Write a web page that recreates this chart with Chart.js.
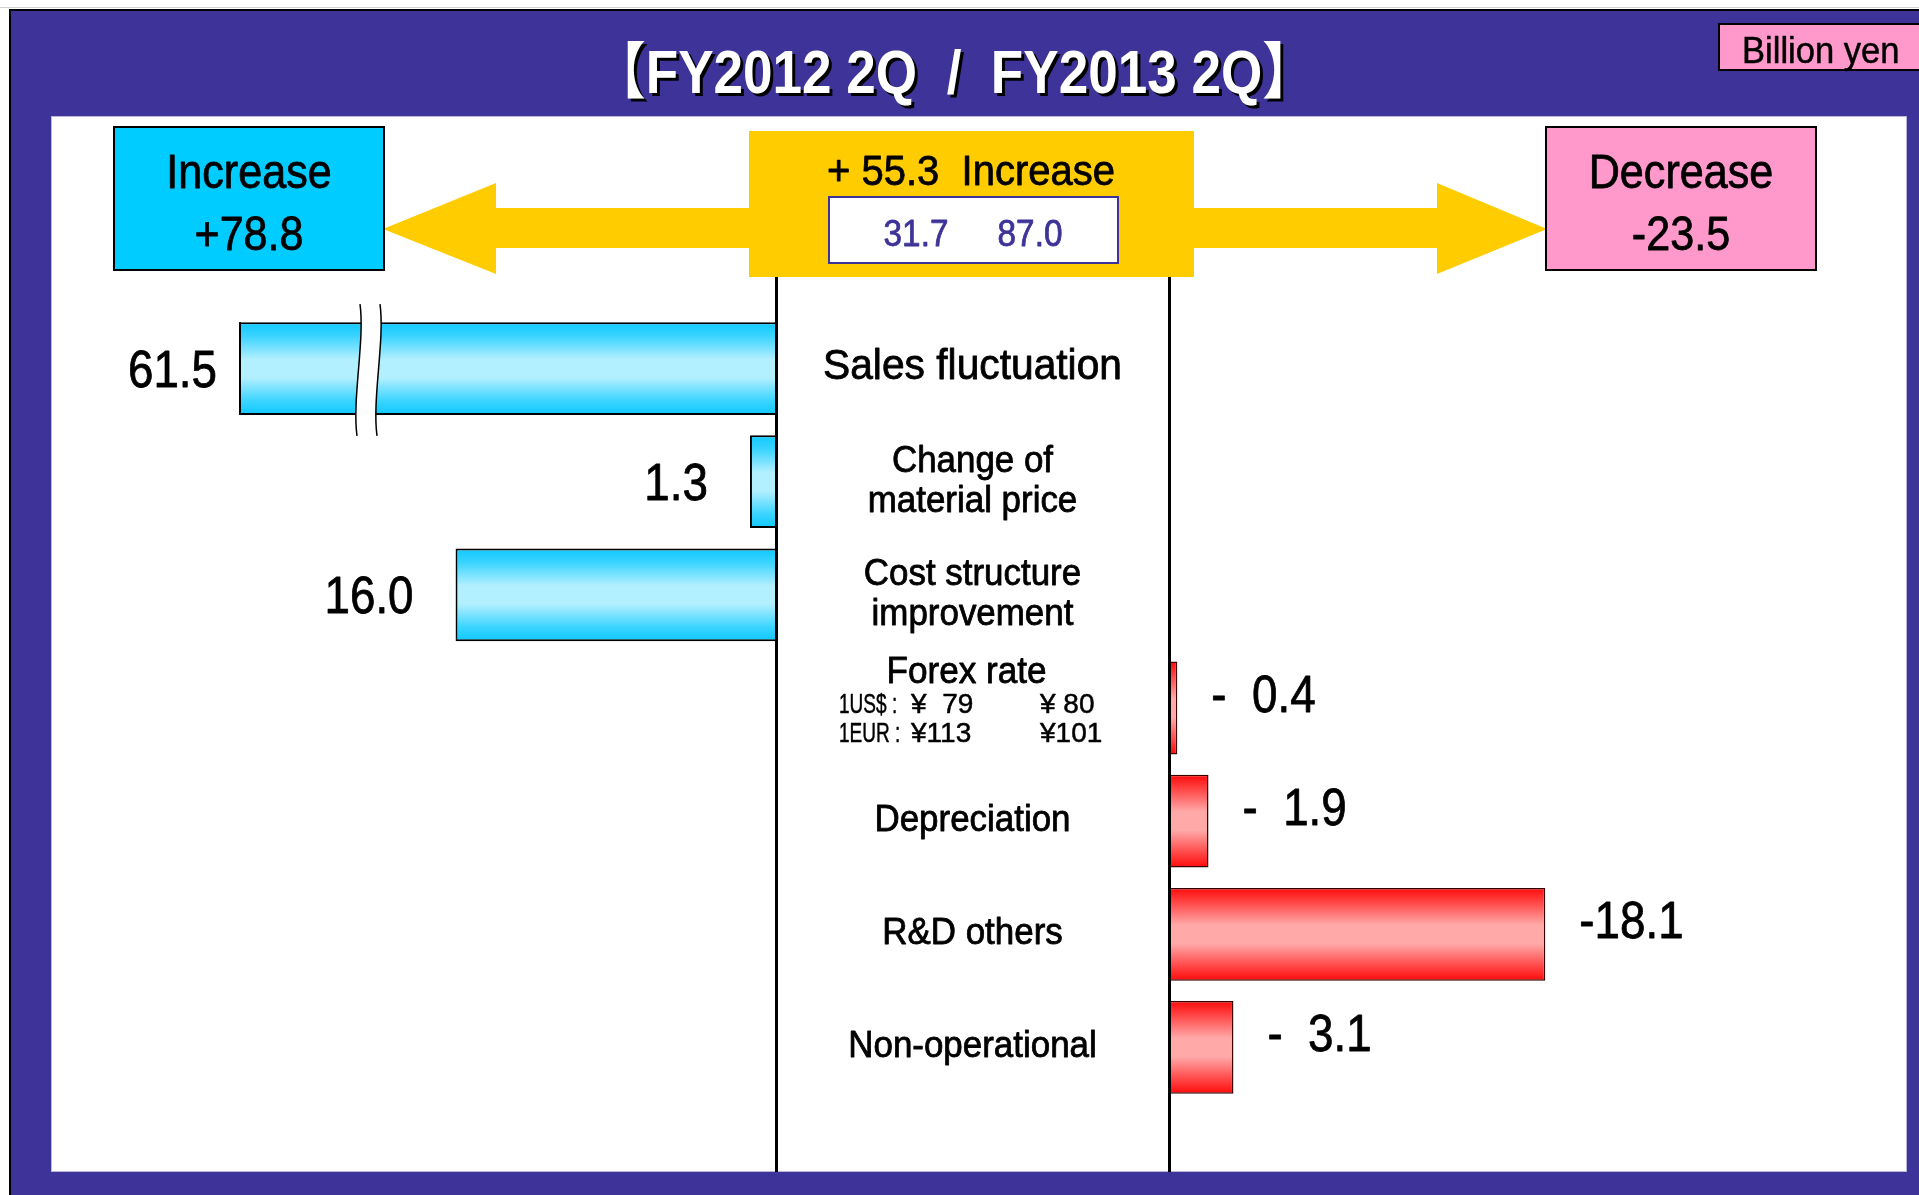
<!DOCTYPE html>
<html>
<head>
<meta charset="utf-8">
<script src="https://cdn.jsdelivr.net/npm/chart.js@4/dist/chart.umd.min.js"></script>
<style>
  html, body { margin: 0; padding: 0; background: #fff; overflow: hidden; }
  canvas { display: block; }
</style>
</head>
<body>
<canvas id="chart" width="1919" height="1195"></canvas>
<script>
// ---------------- data ----------------
const titleText = "【FY2012 2Q  /  FY2013 2Q】";
const unitText = "Billion yen";
const categories = [
  ["Sales fluctuation"],
  ["Change of", "material price"],
  ["Cost structure", "improvement"],
  ["Forex rate"],
  ["Depreciation"],
  ["R&D others"],
  ["Non-operational"]
];
const forexCurrencies = ["1US$ :", "1EUR :"];
const forexBefore = [79, 113];
const forexAfter = [80, 101];
const increaseValues = [61.5, 1.3, 16.0, null, null, null, null];
const decreaseValues = [null, null, null, -0.4, -1.9, -18.1, -3.1];
const totalIncrease = [78.8];
const totalDecrease = [-23.5];
const netChange = [55.3];
const profitFromTo = [31.7, 87.0];
const boxTitles = ["Increase", "Decrease", "Increase"];

// ---------------- layout / style ----------------
const W = 1919, H = 1195;
const PANEL = { l: 51, t: 116, r: 1907, b: 1172 };
const ZERO_L = 776, ZERO_R = 1169;      // zero lines of the two value axes
const BREAK_LEFT = 239;                   // left edge of the plotting area (axis break)
const BAR_RATIO = 0.82;
const PURPLE = '#3D3399';
const CYAN = '#00CCFF', PINK = '#FF99CC', YELLOW = '#FFCC00';
const FONT = '"Liberation Sans", Arial, "Noto Sans CJK JP", sans-serif';

function txt(ctx, s, x, y, size, o = {}) {
  ctx.save();
  ctx.font = (o.bold ? 'bold ' : '') + size + 'px ' + FONT;
  ctx.fillStyle = o.color || '#000';
  ctx.textAlign = o.align || 'center';
  ctx.textBaseline = o.baseline || 'alphabetic';
  ctx.translate(x, y);
  ctx.scale(o.sx || 1, 1);
  ctx.fillText(s, 0, 0);
  const sw = o.stroke === undefined ? 0.8 : o.stroke;
  if (sw > 0) {
    ctx.strokeStyle = o.color || '#000';
    ctx.lineWidth = sw;
    ctx.lineJoin = 'round';
    ctx.strokeText(s, 0, 0);
  }
  ctx.restore();
}

function bandGradient(stops) {
  return (c) => {
    const chart = c.chart, y = chart.scales.y, a = chart.chartArea;
    if (!a || !y) return stops[0][1];
    const g = chart.ctx.createLinearGradient(0, a.top, 0, a.bottom);
    const h = a.bottom - a.top;
    const pitch = Math.abs(y.getPixelForValue(1) - y.getPixelForValue(0));
    const half = pitch * BAR_RATIO / 2;
    const clamp = v => Math.min(1, Math.max(0, v));
    for (let i = 0; i < categories.length; i++) {
      const cy = y.getPixelForValue(i);
      const top = cy - half, bot = cy + half;
      stops.forEach(([f, col]) => g.addColorStop(clamp((top + f * (bot - top) - a.top) / h), col));
    }
    return g;
  };
}
const cyanStops = [[0, '#0FC8FF'], [0.15, '#3AD4FF'], [0.4, '#B2EFFF'], [0.6, '#B2EFFF'], [0.85, '#3AD4FF'], [1, '#0FC8FF']];
const redStops = [[0, '#FF0A0A'], [0.15, '#FF4444'], [0.4, '#FFA9A9'], [0.6, '#FFA9A9'], [0.85, '#FF4444'], [1, '#FF0A0A']];

const decorPlugin = {
  id: 'decor',
  afterLayout(chart) {
    const L = chart.scales.xL, R = chart.scales.xR;
    L.left = PANEL.l; L.right = ZERO_L; L.width = ZERO_L - PANEL.l; L.configure();
    R.left = ZERO_R; R.right = PANEL.r; R.width = PANEL.r - ZERO_R; R.configure();
  },
  beforeDatasetDraw(chart) {
    const a = chart.chartArea, ctx = chart.ctx;
    ctx.save();
    ctx.beginPath();
    ctx.rect(a.left, a.top - 2, a.right - a.left, a.bottom - a.top + 4);
    ctx.clip();
  },
  afterDatasetDraw(chart) {
    chart.ctx.restore();
  },
  beforeDraw(chart) {
    const ctx = chart.ctx;
    ctx.save();
    // page + frame
    ctx.fillStyle = '#fff'; ctx.fillRect(0, 0, W, H);
    ctx.fillStyle = '#d0d0d0'; ctx.fillRect(0, 7, W, 1);
    ctx.fillStyle = '#000'; ctx.fillRect(9, 9, W, H);
    ctx.fillStyle = PURPLE; ctx.fillRect(11, 11, W, H);
    ctx.fillStyle = '#fff'; ctx.fillRect(PANEL.l, PANEL.t, PANEL.r - PANEL.l, PANEL.b - PANEL.t);
    ctx.strokeStyle = '#B8B4DC'; ctx.lineWidth = 1;
    ctx.strokeRect(PANEL.l + 0.5, PANEL.t + 0.5, PANEL.r - PANEL.l - 1, PANEL.b - PANEL.t - 1);

    // title with shadow
    txt(ctx, titleText, 957, 96, 61, { bold: true, color: '#000', sx: 0.87, stroke: 0 });
    txt(ctx, titleText, 954, 93, 61, { bold: true, color: '#fff', sx: 0.87, stroke: 0 });

    // unit box
    ctx.fillStyle = PINK; ctx.fillRect(1719, 24, 220, 46);
    ctx.strokeStyle = '#000'; ctx.lineWidth = 2; ctx.strokeRect(1719, 24, 220, 46);
    txt(ctx, unitText, 1742, 63, 36, { align: 'left', sx: 0.96, stroke: 0.5 });

    // arrows
    ctx.fillStyle = YELLOW;
    ctx.beginPath();
    ctx.moveTo(760, 208); ctx.lineTo(496, 208); ctx.lineTo(496, 183); ctx.lineTo(383, 229);
    ctx.lineTo(496, 274); ctx.lineTo(496, 248); ctx.lineTo(760, 248); ctx.closePath(); ctx.fill();
    ctx.beginPath();
    ctx.moveTo(1185, 208); ctx.lineTo(1437, 208); ctx.lineTo(1437, 183); ctx.lineTo(1547, 229);
    ctx.lineTo(1437, 274); ctx.lineTo(1437, 248); ctx.lineTo(1185, 248); ctx.closePath(); ctx.fill();

    // increase box
    ctx.fillStyle = CYAN; ctx.fillRect(114, 127, 270, 143);
    ctx.strokeStyle = '#000'; ctx.lineWidth = 2; ctx.strokeRect(114, 127, 270, 143);
    txt(ctx, boxTitles[0], 249, 188, 49, { sx: 0.88 });
    txt(ctx, '+' + totalIncrease[0].toFixed(1), 249, 250, 49, { sx: 0.88 });

    // decrease box
    ctx.fillStyle = PINK; ctx.fillRect(1546, 127, 270, 143);
    ctx.strokeRect(1546, 127, 270, 143);
    txt(ctx, boxTitles[1], 1681, 188, 49, { sx: 0.88 });
    txt(ctx, totalDecrease[0].toFixed(1), 1681, 250, 49, { sx: 0.88 });

    // net box
    ctx.fillStyle = YELLOW; ctx.fillRect(749, 131, 445, 146);
    txt(ctx, '+ ' + netChange[0].toFixed(1) + '  ' + boxTitles[2], 971, 185, 43, { sx: 0.93 });
    ctx.fillStyle = '#fff'; ctx.fillRect(829, 197, 289, 66);
    ctx.strokeStyle = PURPLE; ctx.lineWidth = 2; ctx.strokeRect(829, 197, 289, 66);
    txt(ctx, profitFromTo[0].toFixed(1), 916, 246, 37, { color: PURPLE, sx: 0.9 });
    txt(ctx, profitFromTo[1].toFixed(1), 1030, 246, 37, { color: PURPLE, sx: 0.9 });

    // category labels in the middle column
    const y = chart.scales.y;
    const cx = (ZERO_L + ZERO_R) / 2;
    categories.forEach((lines, i) => {
      const c = y.getPixelForValue(i);
      if (i === 3) {
        txt(ctx, lines[0], cx - 6, c - 25, 37, { sx: 0.95 });
        forexCurrencies.forEach((cur, k) => {
          const by = c + 5 + k * 29;
          const fmt = (v, gap) => '¥' + (v < 100 ? gap : '') + v;
          txt(ctx, cur, 839, by, 28, { align: 'left', sx: 0.68, stroke: 0.5 });
          txt(ctx, fmt(forexBefore[k], '  '), 911, by, 28, { align: 'left', stroke: 0.5 });
          txt(ctx, fmt(forexAfter[k], ' '), 1040, by, 28, { align: 'left', stroke: 0.5 });
        });
        return;
      }
      const size = i === 0 ? 42 : 36;
      const L = 40, n = lines.length;
      lines.forEach((s, k) => txt(ctx, s, cx, c + 10 - (n - 1) * L / 2 + k * L, size, { sx: 0.97 }));
    });
    ctx.restore();
  },
  afterDatasetsDraw(chart) {
    const ctx = chart.ctx, a = chart.chartArea;
    const L = chart.scales.xL, R = chart.scales.xR;
    ctx.save();
    // clipped (broken) bars: close edge + break mark
    chart.getDatasetMeta(0).data.forEach((bar, i) => {
      if (increaseValues[i] == null || bar.x >= a.left) return;
      const top = bar.y - bar.height / 2, bot = bar.y + bar.height / 2;
      ctx.fillStyle = '#000'; ctx.fillRect(a.left, top, 2, bot - top);
      const bx = a.left + 121, t = top - 18, b = bot + 21;
      ctx.beginPath();
      ctx.moveTo(bx, t); ctx.bezierCurveTo(bx + 5, t + 35, bx - 8, t + 95, bx - 3, b);
      ctx.lineTo(bx + 17, b); ctx.bezierCurveTo(bx + 12, t + 95, bx + 25, t + 35, bx + 20, t);
      ctx.closePath(); ctx.fillStyle = '#fff'; ctx.fill();
      ctx.strokeStyle = '#000'; ctx.lineWidth = 1.5;
      ctx.beginPath(); ctx.moveTo(bx, t); ctx.bezierCurveTo(bx + 5, t + 35, bx - 8, t + 95, bx - 3, b); ctx.stroke();
      ctx.beginPath(); ctx.moveTo(bx + 20, t); ctx.bezierCurveTo(bx + 25, t + 35, bx + 12, t + 95, bx + 17, b); ctx.stroke();
    });
    // zero lines
    ctx.fillStyle = '#000';
    [L.getPixelForValue(0), R.getPixelForValue(0)].forEach(x => ctx.fillRect(Math.round(x) - 1, 277, 3, PANEL.b - 277));
    // value labels
    chart.getDatasetMeta(0).data.forEach((bar, i) => {
      const v = increaseValues[i];
      if (v == null) return;
      const clipped = bar.x < a.left;
      const x = clipped ? a.left - 22 : bar.x - 42;
      txt(ctx, v.toFixed(1), x, bar.y + 18, 52, { align: 'right', sx: 0.88 });
    });
    chart.getDatasetMeta(1).data.forEach((bar, i) => {
      const v = decreaseValues[i];
      if (v == null) return;
      const num = Math.abs(v).toFixed(1);
      const s = '-' + '  '.repeat(4 - num.length) + num;
      txt(ctx, s, bar.x + 34, bar.y + 4, 52, { align: 'left', sx: 0.88 });
    });
    ctx.restore();
  }
};

new Chart(document.getElementById('chart'), {
  type: 'bar',
  data: {
    labels: categories,
    datasets: [
      {
        label: 'Increase',
        data: increaseValues,
        xAxisID: 'xL',
        yAxisID: 'y',
        grouped: false,
        clip: false,
        backgroundColor: bandGradient(cyanStops),
        borderColor: '#000',
        borderWidth: 2
      },
      {
        label: 'Decrease',
        data: decreaseValues,
        xAxisID: 'xR',
        yAxisID: 'y',
        grouped: false,
        clip: false,
        backgroundColor: bandGradient(redStops),
        borderColor: '#3a0000',
        borderWidth: 1.5
      }
    ]
  },
  options: {
    responsive: false,
    animation: false,
    indexAxis: 'y',
    categoryPercentage: 1,
    barPercentage: BAR_RATIO,
    layout: { padding: { left: BREAK_LEFT, right: W - PANEL.r, top: 312, bottom: 91 } },
    plugins: { legend: { display: false }, tooltip: { enabled: false }, title: { display: false } },
    scales: {
      y: { type: 'category', display: false, offset: true },
      xL: { type: 'linear', axis: 'x', position: 'bottom', display: false, reverse: true, min: 0, max: 36.2 },
      xR: { type: 'linear', axis: 'x', position: 'bottom', display: false, reverse: true, min: -35.5, max: 0 }
    }
  },
  plugins: [decorPlugin]
});
</script>
</body>
</html>
